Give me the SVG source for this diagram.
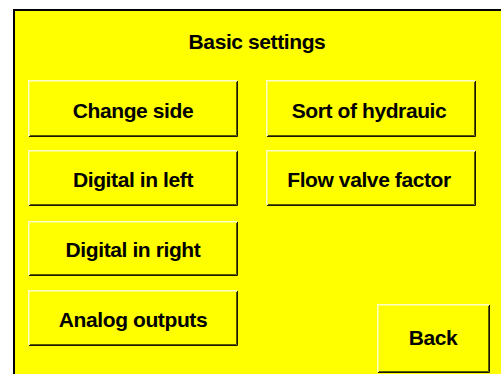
<svg xmlns="http://www.w3.org/2000/svg" width="501" height="374" viewBox="0 0 501 374">
<style>
.lbl{font-family:"Liberation Sans",Arial,sans-serif;font-weight:bold;font-size:21px;letter-spacing:-0.4px;fill:#000;text-anchor:middle}
.face{fill:#ffff00}
.hi{fill:none;stroke:#ffffc8;stroke-width:1.5}
.sh1{fill:none;stroke:#1a1a00;stroke-width:1}
.sh2{fill:none;stroke:#5a5a00;stroke-width:1}
</style>
<rect x="0" y="0" width="501" height="374" fill="#ffffff"/>
<g id="frame">
<rect x="14" y="10" width="500" height="380" fill="#ffff00" stroke="#000" stroke-width="2"/>
</g>
<g id="title"><text class="lbl" x="257" y="49">Basic settings</text></g>
<g id="connectors"></g>
<g id="btn-change-side">
<rect class="face" x="28" y="80" width="210" height="57"/>
<path class="hi" d="M28.75,136 V80.75 H237"/>
<path class="sh1" d="M29,136.5 H237.5 V81"/>
<path class="sh2" d="M30,135.5 H236.5 V82"/>
<text class="lbl" x="133" y="118">Change side</text>
</g>
<g id="btn-digital-in-left">
<rect class="face" x="28" y="150" width="210" height="56"/>
<path class="hi" d="M28.75,205 V150.75 H237"/>
<path class="sh1" d="M29,205.5 H237.5 V151"/>
<path class="sh2" d="M30,204.5 H236.5 V152"/>
<text class="lbl" x="133" y="187">Digital in left</text>
</g>
<g id="btn-digital-in-right">
<rect class="face" x="28" y="221" width="210" height="55"/>
<path class="hi" d="M28.75,275 V221.75 H237"/>
<path class="sh1" d="M29,275.5 H237.5 V222"/>
<path class="sh2" d="M30,274.5 H236.5 V223"/>
<text class="lbl" x="133" y="257">Digital in right</text>
</g>
<g id="btn-analog-outputs">
<rect class="face" x="28" y="290" width="210" height="56"/>
<path class="hi" d="M28.75,345 V290.75 H237"/>
<path class="sh1" d="M29,345.5 H237.5 V291"/>
<path class="sh2" d="M30,344.5 H236.5 V292"/>
<text class="lbl" x="133" y="327">Analog outputs</text>
</g>
<g id="btn-sort-of-hydrauic">
<rect class="face" x="266" y="80" width="210" height="57"/>
<path class="hi" d="M266.75,136 V80.75 H475"/>
<path class="sh1" d="M267,136.5 H475.5 V81"/>
<path class="sh2" d="M268,135.5 H474.5 V82"/>
<text class="lbl" x="369" y="118">Sort of hydrauic</text>
</g>
<g id="btn-flow-valve-factor">
<rect class="face" x="266" y="150" width="210" height="56"/>
<path class="hi" d="M266.75,205 V150.75 H475"/>
<path class="sh1" d="M267,205.5 H475.5 V151"/>
<path class="sh2" d="M268,204.5 H474.5 V152"/>
<text class="lbl" x="369" y="187">Flow valve factor</text>
</g>
<g id="btn-back">
<rect class="face" x="377" y="304" width="113" height="69"/>
<path class="hi" d="M377.75,372 V304.75 H489"/>
<path class="sh1" d="M378,372.5 H489.5 V305"/>
<path class="sh2" d="M379,371.5 H488.5 V306"/>
<text class="lbl" x="433" y="345">Back</text>
</g>
</svg>
